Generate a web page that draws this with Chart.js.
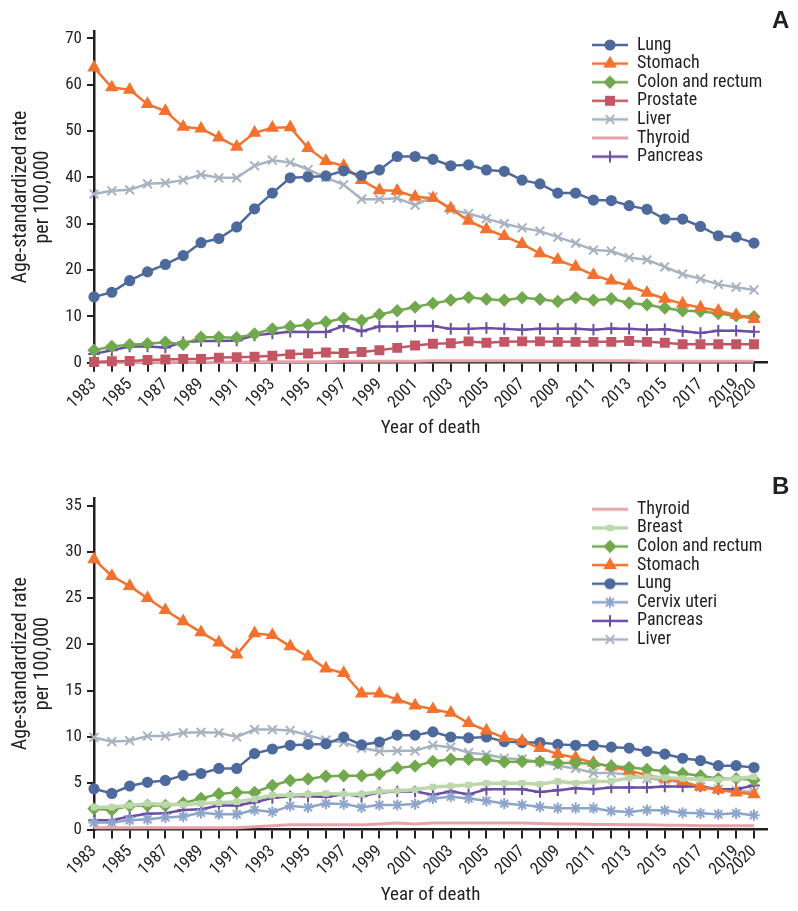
<!DOCTYPE html>
<html>
<head>
<meta charset="utf-8">
<script src="https://cdn.jsdelivr.net/npm/chart.js@4.4.1/dist/chart.umd.min.js"></script>
<style>
  html, body { margin: 0; padding: 0; background: #fff; }
  body { width: 798px; height: 911px; position: relative; overflow: hidden; }
  .panel { position: absolute; left: 0; width: 798px; }
  #panelA { top: 0; height: 456px; }
  #panelB { top: 456px; height: 455px; }
  .letter { position: absolute; font: bold 24px 'Liberation Sans', Arial, sans-serif; color: #231F20; }
</style>
</head>
<body>
<div class="panel" id="panelA"><canvas id="chartA"></canvas></div>
<div class="panel" id="panelB"><canvas id="chartB"></canvas></div>
<div class="letter" style="left:772px; top:6px;">A</div>
<div class="letter" style="left:772px; top:472px;">B</div>
<script>
'use strict';

// DATA
const years = [1983, 1984, 1985, 1986, 1987, 1988, 1989, 1990, 1991, 1992,
  1993, 1994, 1995, 1996, 1997, 1998, 1999, 2000, 2001, 2002, 2003, 2004,
  2005, 2006, 2007, 2008, 2009, 2010, 2011, 2012, 2013, 2014, 2015, 2016,
  2017, 2018, 2019, 2020];
const labelYears = [1983, 1985, 1987, 1989, 1991, 1993, 1995, 1997, 1999,
  2001, 2003, 2005, 2007, 2009, 2011, 2013, 2015, 2017, 2019, 2020];
const yTicksA = [0, 10, 20, 30, 40, 50, 60, 70];
const yTicksB = [0, 5, 10, 15, 20, 25, 30, 35];

// panel A (men)
const lungA = [14.2, 15.2, 17.7, 19.6, 21.2, 23.1, 25.9, 26.8, 29.3, 33.2, 36.6, 39.9, 40.1, 40.3, 41.4, 40.4, 41.6, 44.5,
  44.5, 43.9, 42.5, 42.7, 41.6, 41.3, 39.4, 38.6, 36.6, 36.6, 35.1, 35.0, 33.9, 33.1, 31.0, 31.0, 29.4, 27.4, 27.1, 25.8];
const stomachA = [63.7, 59.4, 58.9, 55.8, 54.3, 50.9, 50.5, 48.6, 46.6, 49.6, 50.7, 50.8, 46.3, 43.5, 42.5, 39.4, 37.2, 37.1,
  35.8, 35.5, 33.3, 30.6, 28.8, 27.3, 25.6, 23.6, 22.2, 20.7, 18.9, 17.7, 16.6, 15.1, 13.8, 12.7, 11.9, 11.2, 10.3, 9.4];
const colonA = [2.7, 3.5, 3.9, 4.1, 4.4, 4.0, 5.5, 5.5, 5.4, 6.2, 7.3, 7.8, 8.2, 8.8, 9.6, 9.1, 10.4, 11.2,
  12.0, 12.8, 13.5, 14.1, 13.7, 13.5, 14.0, 13.7, 13.2, 14.0, 13.5, 13.8, 12.9, 12.5, 11.8, 11.2, 11.1, 10.6, 10.1, 9.9];
const prostateA = [0.15, 0.3, 0.35, 0.6, 0.7, 0.8, 0.8, 1.1, 1.2, 1.3, 1.5, 1.8, 2.0, 2.2, 2.1, 2.3, 2.7, 3.2,
  3.7, 4.1, 4.2, 4.6, 4.3, 4.5, 4.6, 4.6, 4.5, 4.5, 4.5, 4.5, 4.7, 4.5, 4.3, 4.0, 4.0, 4.0, 4.0, 4.0];
const liverA = [36.4, 37.1, 37.3, 38.6, 38.8, 39.4, 40.6, 39.9, 39.9, 42.5, 43.7, 43.2, 41.7, 40.0, 38.4, 35.3, 35.3, 35.5,
  34.0, 35.8, 33.0, 32.2, 31.1, 30.0, 29.1, 28.4, 27.1, 25.8, 24.3, 24.1, 22.7, 22.2, 20.7, 19.1, 18.1, 16.9, 16.3, 15.7];
const thyroidA = [0.1, 0.1, 0.1, 0.1, 0.1, 0.1, 0.1, 0.1, 0.1, 0.2, 0.2, 0.2, 0.2, 0.2, 0.3, 0.3, 0.3, 0.3,
  0.3, 0.4, 0.4, 0.4, 0.4, 0.4, 0.4, 0.4, 0.4, 0.4, 0.4, 0.4, 0.4, 0.3, 0.3, 0.3, 0.3, 0.3, 0.3, 0.3];
const pancreasA = [1.9, 2.7, 3.5, 3.5, 3.3, 4.4, 4.7, 4.7, 4.8, 5.9, 6.3, 6.7, 6.6, 6.6, 7.9, 6.8, 7.8, 7.8,
  7.9, 7.9, 7.3, 7.3, 7.5, 7.3, 7.1, 7.3, 7.3, 7.3, 7.1, 7.4, 7.3, 7.1, 7.2, 6.8, 6.4, 6.9, 6.9, 6.7];

// panel B (women)
const thyroidB = [0.2, 0.2, 0.2, 0.2, 0.2, 0.2, 0.2, 0.2, 0.2, 0.3, 0.4, 0.5, 0.5, 0.5, 0.5, 0.5, 0.6, 0.7,
  0.6, 0.7, 0.7, 0.7, 0.7, 0.7, 0.7, 0.65, 0.6, 0.6, 0.55, 0.55, 0.5, 0.5, 0.45, 0.45, 0.4, 0.4, 0.4, 0.4];
const breastB = [2.4, 2.4, 2.6, 2.8, 2.7, 2.7, 2.8, 2.9, 3.0, 3.3, 3.7, 3.7, 3.8, 3.9, 3.8, 3.8, 4.1, 4.2,
  4.3, 4.6, 4.7, 4.8, 5.0, 5.0, 5.0, 4.9, 5.2, 5.0, 5.2, 5.2, 5.6, 5.7, 5.6, 5.5, 5.4, 5.4, 5.5, 5.7];
const colonB = [2.25, 2.1, 2.55, 2.6, 2.6, 2.85, 3.35, 3.85, 4.0, 4.0, 4.75, 5.3, 5.45, 5.75, 5.8, 5.8, 6.0, 6.65,
  6.85, 7.35, 7.6, 7.6, 7.55, 7.3, 7.35, 7.35, 7.2, 7.2, 7.1, 6.85, 6.7, 6.5, 6.3, 6.05, 5.8, 5.5, 5.5, 5.35];
const stomachB = [29.2, 27.4, 26.3, 25.0, 23.7, 22.5, 21.3, 20.2, 18.9, 21.2, 21.0, 19.8, 18.7, 17.4, 16.9, 14.7, 14.7, 14.05,
  13.4, 13.0, 12.6, 11.5, 10.7, 9.9, 9.55, 8.8, 8.15, 7.75, 7.2, 6.8, 6.35, 5.9, 5.5, 5.2, 4.6, 4.3, 4.0, 3.8];
const lungB = [4.4, 3.9, 4.7, 5.1, 5.3, 5.85, 6.05, 6.6, 6.6, 8.2, 8.7, 9.1, 9.2, 9.25, 9.98, 9.15, 9.45, 10.2,
  10.2, 10.55, 10.0, 9.9, 10.0, 9.5, 9.4, 9.4, 9.2, 9.1, 9.1, 8.9, 8.8, 8.45, 8.15, 7.7, 7.45, 6.9, 6.9, 6.7];
const cervixB = [0.75, 0.75, 1.0, 1.1, 1.3, 1.4, 1.8, 1.65, 1.65, 2.1, 1.9, 2.55, 2.4, 2.8, 2.75, 2.4, 2.65, 2.65,
  2.75, 3.35, 3.55, 3.35, 3.1, 2.8, 2.65, 2.45, 2.3, 2.3, 2.3, 2.0, 1.9, 2.1, 2.05, 1.8, 1.75, 1.65, 1.75, 1.55];
const pancreasB = [1.0, 1.0, 1.4, 1.7, 1.75, 2.1, 2.2, 2.6, 2.6, 2.95, 3.4, 3.6, 3.6, 3.5, 3.8, 3.6, 4.0, 4.1,
  4.1, 3.75, 4.1, 3.8, 4.35, 4.35, 4.35, 4.05, 4.25, 4.45, 4.35, 4.55, 4.55, 4.55, 4.65, 4.65, 4.65, 4.35, 4.35, 4.75];
const liverB = [9.95, 9.5, 9.6, 10.1, 10.1, 10.45, 10.5, 10.45, 10.0, 10.8, 10.8, 10.7, 10.2, 9.65, 9.4, 8.8, 8.45, 8.5,
  8.5, 9.1, 8.9, 8.3, 8.1, 7.7, 7.6, 7.3, 6.9, 6.6, 6.1, 6.1, 5.95, 5.5, 5.35, 5.05, 4.6, 4.35, 4.2, 4.05];

// STYLES
const FONT = "'Liberation Sans Narrow', 'Roboto Condensed', Roboto, sans-serif";
const INK = '#231F20';
const colors = {
  lung: '#4E6A9D',
  stomach: '#F3722F',
  colon: '#72A84E',
  prostate: '#C25665',
  liver: '#A8B2C0',
  thyroid: '#E5A3A9',
  pancreas: '#6A4EA5',
  cervix: '#8DA4CB',
  breast: '#BCD7AC',
};

const series = function (label, values, color, style, radius, lineWidth) {
  return {
    label: label,
    data: values.map((v, i) => ({ x: years[i], y: v })),
    borderColor: color,
    backgroundColor: color,
    borderWidth: lineWidth || 2.5,
    pointStyle: style || 'circle',
    pointRadius: radius,
    pointHoverRadius: radius,
    pointBackgroundColor: color,
    pointBorderColor: color,
    pointBorderWidth: 2,
    tension: 0,
    clip: false,
  };
};

// legend sample: line with the marker on it
const makeIcon = function (ds) {
  const c = document.createElement('canvas');
  c.width = 36;
  c.height = 18;
  const g = c.getContext('2d');
  g.strokeStyle = ds.borderColor;
  g.lineWidth = ds.borderWidth;
  g.beginPath();
  g.moveTo(0, 9);
  g.lineTo(36, 9);
  g.stroke();
  if (ds.pointRadius > 0) {
    g.fillStyle = ds.pointBackgroundColor;
    g.strokeStyle = ds.pointBorderColor;
    g.lineWidth = ds.pointBorderWidth;
    Chart.helpers.drawPoint(g, {
      pointStyle: ds.pointStyle,
      radius: ds.pointRadius,
      rotation: 0,
      borderWidth: ds.pointBorderWidth,
    }, 18, 9);
  }
  return c;
};

// moves the legend to a fixed spot inside the plot
const legendSpot = {
  id: 'legendSpot',
  afterLayout(chart) {
    const spot = chart.options.plugins.legendSpot;
    const lg = chart.legend;
    lg.left = spot.left;
    lg.top = spot.top;
    lg.right = lg.left + lg.width;
    lg.bottom = lg.top + lg.height;
  },
};

const buildPanel = function (canvasId, cfg) {
  const icons = cfg.datasets.map(makeIcon);
  return new Chart(document.getElementById(canvasId), {
    type: 'line',
    data: { datasets: cfg.datasets },
    plugins: [legendSpot],
    options: {
      responsive: true,
      maintainAspectRatio: false,
      animation: false,
      events: [],
      layout: { padding: { top: cfg.padTop, left: 0, right: 31, bottom: 0 } },
      plugins: {
        tooltip: { enabled: false },
        legendSpot: { left: 591.4, top: cfg.legendTop },
        legend: {
          position: 'chartArea',
          align: 'start',
          labels: {
            usePointStyle: true,
            pointStyleWidth: 36,
            padding: 0.6,
            color: INK,
            font: { family: FONT, size: 18 },
            generateLabels: function (chart) {
              const items = Chart.defaults.plugins.legend.labels.generateLabels(chart);
              items.forEach(function (item, i) {
                item.pointStyle = icons[i];
              });
              return items;
            },
          },
        },
      },
      scales: {
        x: {
          type: 'linear',
          min: 1983,
          max: 2020.73,
          afterBuildTicks: function (scale) {
            scale.ticks = years.map(v => ({ value: v }));
          },
          afterFit: function (scale) {
            scale.height = cfg.xHeight;
          },
          ticks: {
            autoSkip: false,
            minRotation: 45,
            maxRotation: 45,
            padding: 3,
            color: INK,
            font: { family: FONT, size: 17 },
            callback: v => (labelYears.includes(v) ? String(v) : ''),
          },
          grid: { drawOnChartArea: false, tickLength: 9, color: INK, lineWidth: 2 },
          border: { color: INK, width: 2.5 },
          title: {
            display: true,
            text: 'Year of death',
            color: INK,
            font: { family: FONT, size: 19, lineHeight: 1.2 },
            padding: { top: 4, bottom: cfg.xTitlePad },
          },
        },
        y: {
          type: 'linear',
          min: 0,
          max: cfg.yMax,
          afterBuildTicks: function (scale) {
            scale.ticks = cfg.yTicks.map(v => ({ value: v }));
          },
          afterFit: function (scale) {
            scale.width = 94;
          },
          ticks: {
            padding: 5,
            color: INK,
            font: { family: FONT, size: 17 },
          },
          grid: { drawOnChartArea: false, tickLength: 7, color: INK, lineWidth: 2 },
          border: { color: INK, width: 2.5 },
          title: {
            display: true,
            text: ['Age-standardized rate', 'per 100,000'],
            color: INK,
            font: { family: FONT, size: 20, lineHeight: 1.1 },
            padding: { top: 10, bottom: 0 },
          },
        },
      },
    },
  });
};

// CHARTS
buildPanel('chartA', {
  yMax: 71.5,
  yTicks: yTicksA,
  padTop: 31.4,
  xHeight: 93.3,
  xTitlePad: 16.6,
  legendTop: 35.4,
  datasets: [
    series('Lung', lungA, colors.lung, 'circle', 4.6),
    series('Stomach', stomachA, colors.stomach, 'triangle', 5.8),
    series('Colon and rectum', colonA, colors.colon, 'rectRot', 5.3),
    series('Prostate', prostateA, colors.prostate, 'rect', 5.6),
    series('Liver', liverA, colors.liver, 'crossRot', 6.2),
    series('Thyroid', thyroidA, colors.thyroid, 'circle', 0, 3),
    series('Pancreas', pancreasA, colors.pancreas, 'cross', 5.8),
  ],
});

buildPanel('chartB', {
  yMax: 35.85,
  yTicks: yTicksB,
  padTop: 41.8,
  xHeight: 81.5,
  xTitlePad: 4.6,
  legendTop: 43.7,
  datasets: [
    series('Thyroid', thyroidB, colors.thyroid, 'circle', 0, 3),
    series('Breast', breastB, colors.breast, 'rect', 3.2, 3.5),
    series('Colon and rectum', colonB, colors.colon, 'rectRot', 5.3),
    series('Stomach', stomachB, colors.stomach, 'triangle', 5.8),
    series('Lung', lungB, colors.lung, 'circle', 4.6),
    series('Cervix uteri', cervixB, colors.cervix, 'star', 5.6),
    series('Pancreas', pancreasB, colors.pancreas, 'cross', 5.8),
    series('Liver', liverB, colors.liver, 'crossRot', 6.2),
  ],
});
</script>
</body>
</html>
